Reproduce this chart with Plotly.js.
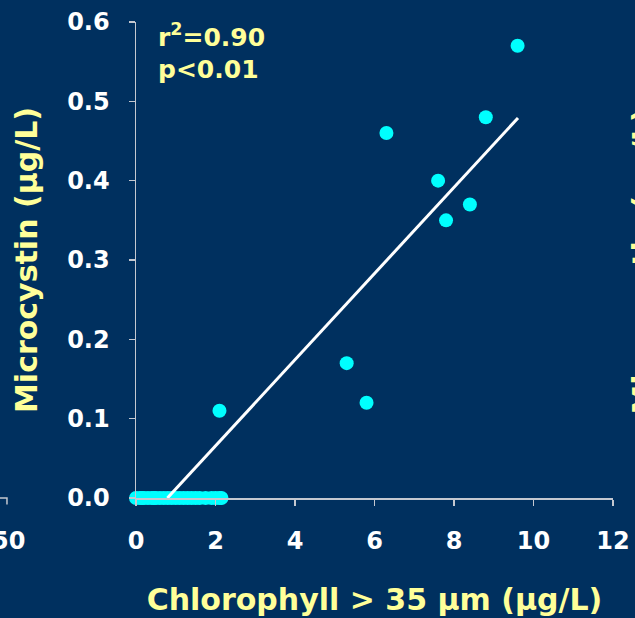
<!DOCTYPE html>
<html>
<head>
<meta charset="utf-8">
<script src="https://cdn.plot.ly/plotly-3.0.1.min.js"></script>
<style>
  html, body { margin: 0; padding: 0; background: #00305f; }
  #chart { width: 635px; height: 618px; }
</style>
</head>
<body>
<div id="chart"></div>
<script>
// Samples: chlorophyll > 35 µm (µg/L) vs microcystin (µg/L)
const chlX = [0.0, 0.1, 0.15, 0.2, 0.3, 0.4, 0.45, 0.5, 0.6, 0.7, 0.8, 0.9, 1.0, 1.1, 1.2, 1.3, 1.4, 1.5, 1.6, 1.75, 1.9, 2.0, 2.1, 2.15,
              2.1, 5.3, 5.8, 6.3, 7.6, 7.8, 8.4, 8.8, 9.6];
const mcY  = [0, 0, 0, 0, 0, 0, 0, 0, 0, 0, 0, 0, 0, 0, 0, 0, 0, 0, 0, 0, 0, 0, 0, 0,
              0.11, 0.17, 0.12, 0.46, 0.40, 0.35, 0.37, 0.48, 0.57];

// Fitted regression line end points
const fitX = [0.79, 9.61];
const fitY = [0.0, 0.479];

// Tick labels
const xTicks = [0, 2, 4, 6, 8, 10, 12];
const yTicks = [0.0, 0.1, 0.2, 0.3, 0.4, 0.5, 0.6];
const yTickText = ['0.0', '0.1', '0.2', '0.3', '0.4', '0.5', '0.6'];

const bg = '#00305f';
const yellow = '#ffff99';
const axisGray = '#c4c8d0';
const font = 'DejaVu Sans, Verdana, sans-serif';

const traces = [
  {
    x: chlX, y: mcY, type: 'scatter', mode: 'markers',
    marker: { color: '#00ffff', size: 14, line: { width: 0 } },
    cliponaxis: false, hoverinfo: 'skip'
  },
  {
    x: fitX, y: fitY, type: 'scatter', mode: 'lines',
    line: { color: '#ffffff', width: 3 },
    cliponaxis: false, hoverinfo: 'skip'
  }
];

const layout = {
  width: 635, height: 618,
  paper_bgcolor: bg, plot_bgcolor: bg,
  showlegend: false,
  margin: { l: 136, r: 22, t: 22, b: 120, pad: 0 },
  font: { family: font, color: '#ffffff' },
  xaxis: {
    range: [0, 12], tickvals: xTicks, ticktext: xTicks.map(String),
    showgrid: false, zeroline: false,
    showline: true, linecolor: axisGray, linewidth: 1.5,
    ticks: 'outside', ticklen: 6, tickcolor: axisGray, tickwidth: 1.5,
    tickfont: { family: font, size: 24, color: '#ffffff', weight: 'bold' },
    ticklabelstandoff: 15,
    title: {
      text: 'Chlorophyll > 35 µm (µg/L)',
      font: { family: font, size: 30, color: yellow, weight: 'bold' },
      standoff: 34
    }
  },
  yaxis: {
    range: [0, 0.6], tickvals: yTicks, ticktext: yTickText,
    showgrid: false, zeroline: false,
    showline: true, linecolor: axisGray, linewidth: 1.5,
    ticks: 'outside', ticklen: 6, tickcolor: axisGray, tickwidth: 1.5,
    tickfont: { family: font, size: 24, color: '#ffffff', weight: 'bold' },
    ticklabelstandoff: 14,
    title: {
      text: 'Microcystin (µg/L)',
      font: { family: font, size: 30, color: yellow, weight: 'bold' },
      standoff: 20
    }
  },
  annotations: [
    {
      xref: 'paper', yref: 'paper', x: 0.042, y: 1.01,
      xanchor: 'left', yanchor: 'top', align: 'left', showarrow: false,
      text: 'r<sup>2</sup>=0.90<br>p<0.01',
      font: { family: font, size: 25, color: yellow, weight: 'bold' }
    },
    // neighbouring panel fragments at the page edges
    {
      xref: 'paper', yref: 'paper', x: -0.268, y: -0.09,
      xanchor: 'center', yanchor: 'middle', showarrow: false,
      text: '50',
      font: { family: font, size: 24, color: '#ffffff', weight: 'bold' }
    },
    {
      xref: 'paper', yref: 'paper', x: 1.063, y: 0.497,
      xanchor: 'center', yanchor: 'middle', showarrow: false, textangle: -90,
      text: 'Microcystin (µg/L)',
      font: { family: font, size: 30, color: yellow, weight: 'bold' }
    }
  ],
  shapes: [
    {
      type: 'path', xref: 'paper', yref: 'paper',
      path: 'M -0.3,0 L -0.2705,0 L -0.2705,-0.0135',
      line: { color: axisGray, width: 1.5 }
    }
  ]
};

Plotly.newPlot('chart', traces, layout, { displayModeBar: false, staticPlot: true });
</script>
</body>
</html>
